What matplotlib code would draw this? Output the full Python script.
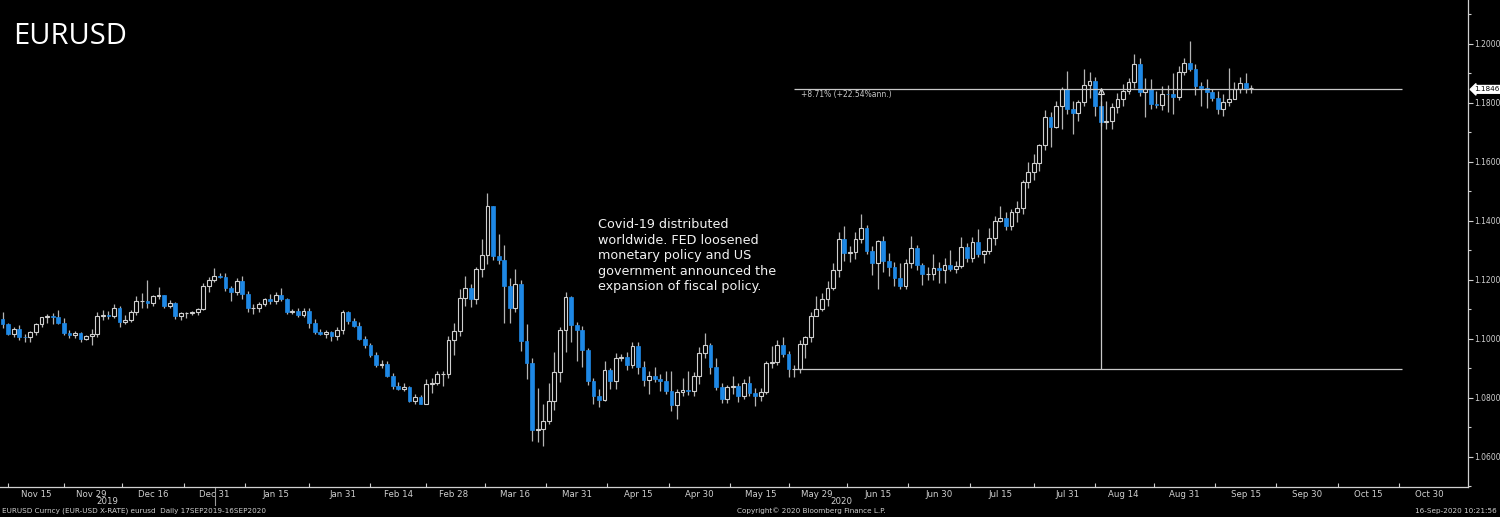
import numpy as np
import pandas as pd
import matplotlib
matplotlib.use("Agg")
import matplotlib.pyplot as plt

# EURUSD daily candles, 06 Nov 2019 - 16 Sep 2020 (weekdays, as Bloomberg shows FX)
start_day = "2019-11-06"
end_day = "2020-09-16"

opens = [
    # Nov
    1.1075, 1.1066, 1.1050, 1.1018, 1.1033, 1.1008, 1.1006, 1.1022, 1.1050, 1.1073, 1.1077, 1.1075, 1.1054, 1.1021, 1.1013, 1.1020, 1.1000, 1.1009,
    # Dec
    1.1017, 1.1078, 1.1081, 1.1077, 1.1104, 1.1059, 1.1065, 1.1093, 1.1128, 1.1130, 1.1121, 1.1144, 1.1148, 1.1112, 1.1121, 1.1079, 1.1087, 1.1089, 1.1090, 1.1100, 1.1178, 1.1199,
    # Jan
    1.1213, 1.1210, 1.1171, 1.1159, 1.1196, 1.1152, 1.1105, 1.1105, 1.1120, 1.1135, 1.1129, 1.1150, 1.1136, 1.1090, 1.1096, 1.1082, 1.1094, 1.1053, 1.1025, 1.1018, 1.1022, 1.1009, 1.1030,
    # Feb
    1.1093, 1.1060, 1.1044, 1.0999, 1.0981, 1.0945, 1.0912, 1.0915, 1.0873, 1.0841, 1.0830, 1.0837, 1.0791, 1.0803, 1.0780, 1.0846, 1.0852, 1.0880, 1.0881, 1.0998,
    # Mar
    1.1027, 1.1138, 1.1174, 1.1136, 1.1236, 1.1285, 1.1451, 1.1282, 1.1268, 1.1181, 1.1106, 1.1185, 1.0993, 1.0918, 1.0691, 1.0694, 1.0722, 1.0790, 1.0887, 1.1031, 1.1141, 1.1046,
    # Apr
    1.1031, 1.0961, 1.0857, 1.0807, 1.0794, 1.0893, 1.0859, 1.0936, 1.0938, 1.0913, 1.0975, 1.0905, 1.0862, 1.0876, 1.0863, 1.0856, 1.0822, 1.0775, 1.0820, 1.0826, 1.0823, 1.0874,
    # May
    1.0954, 1.0981, 1.0906, 1.0838, 1.0796, 1.0837, 1.0841, 1.0807, 1.0850, 1.0817, 1.0805, 1.0819, 1.0919, 1.0923, 1.0978, 1.0950, 1.0897, 1.0898, 1.0983, 1.1007, 1.1078,
    # Jun
    1.1103, 1.1136, 1.1171, 1.1234, 1.1339, 1.1292, 1.1294, 1.1340, 1.1376, 1.1299, 1.1256, 1.1333, 1.1264, 1.1245, 1.1207, 1.1180, 1.1258, 1.1308, 1.1250, 1.1220, 1.1220, 1.1241,
    # Jul
    1.1234, 1.1250, 1.1238, 1.1246, 1.1310, 1.1275, 1.1329, 1.1288, 1.1299, 1.1342, 1.1400, 1.1410, 1.1383, 1.1429, 1.1445, 1.1532, 1.1567, 1.1595, 1.1656, 1.1753, 1.1718, 1.1790, 1.1846,
    # Aug
    1.1778, 1.1765, 1.1803, 1.1861, 1.1876, 1.1790, 1.1737, 1.1738, 1.1787, 1.1814, 1.1842, 1.1870, 1.1933, 1.1836, 1.1848, 1.1797, 1.1794, 1.1832, 1.1830, 1.1820, 1.1905,
    # Sep
    1.1935, 1.1915, 1.1858, 1.1850, 1.1837, 1.1818, 1.1780, 1.1803, 1.1814, 1.1846, 1.1868, 1.1850,
]
highs = [
    1.1092, 1.1092, 1.1055, 1.1040, 1.1046, 1.1018, 1.1026, 1.1054, 1.1075, 1.1085, 1.1089, 1.1097, 1.1072, 1.1031, 1.1026, 1.1025, 1.1015, 1.1035,
    1.1090, 1.1097, 1.1095, 1.1117, 1.1111, 1.1080, 1.1097, 1.1145, 1.1155, 1.1200, 1.1150, 1.1175, 1.1150, 1.1132, 1.1125, 1.1091, 1.1093, 1.1095, 1.1105, 1.1188, 1.1210, 1.1239,
    1.1225, 1.1225, 1.1180, 1.1206, 1.1215, 1.1163, 1.1118, 1.1125, 1.1140, 1.1152, 1.1160, 1.1173, 1.1140, 1.1100, 1.1105, 1.1105, 1.1105, 1.1066, 1.1035, 1.1030, 1.1028, 1.1040, 1.1097,
    1.1096, 1.1070, 1.1058, 1.1011, 1.0987, 1.0955, 1.0930, 1.0925, 1.0883, 1.0855, 1.0850, 1.0840, 1.0815, 1.0810, 1.0863, 1.0866, 1.0891, 1.0892, 1.1009, 1.1054,
    1.1170, 1.1214, 1.1185, 1.1244, 1.1340, 1.1496, 1.1452, 1.1356, 1.1317, 1.1205, 1.1237, 1.1200, 1.1050, 1.0935, 1.0832, 1.0780, 1.0850, 1.0955, 1.1040, 1.1160, 1.1145, 1.1058,
    1.1045, 1.0970, 1.0868, 1.0830, 1.0925, 1.0900, 1.0952, 1.0950, 1.0955, 1.0990, 1.0990, 1.0925, 1.0890, 1.0905, 1.0880, 1.0890, 1.0890, 1.0830, 1.0868, 1.0892, 1.0888, 1.0972,
    1.1019, 1.0985, 1.0937, 1.0849, 1.0845, 1.0876, 1.0851, 1.0864, 1.0876, 1.0833, 1.0834, 1.0926, 1.0976, 1.0995, 1.1008, 1.0960, 1.0913, 1.0995, 1.1010, 1.1092, 1.1145,
    1.1155, 1.1198, 1.1257, 1.1362, 1.1384, 1.1315, 1.1361, 1.1422, 1.1385, 1.1316, 1.1336, 1.1350, 1.1290, 1.1260, 1.1257, 1.1271, 1.1349, 1.1320, 1.1258, 1.1245, 1.1289, 1.1262,
    1.1276, 1.1303, 1.1265, 1.1346, 1.1324, 1.1345, 1.1371, 1.1303, 1.1375, 1.1417, 1.1452, 1.1431, 1.1442, 1.1468, 1.1540, 1.1601, 1.1626, 1.1660, 1.1777, 1.1769, 1.1806, 1.1855, 1.1908,
    1.1806, 1.1809, 1.1916, 1.1906, 1.1889, 1.1806, 1.1805, 1.1800, 1.1833, 1.1863, 1.1883, 1.1966, 1.1951, 1.1885, 1.1880, 1.1840, 1.1858, 1.1860, 1.1900, 1.1925, 1.1953,
    1.2011, 1.1932, 1.1870, 1.1880, 1.1846, 1.1839, 1.1830, 1.1917, 1.1871, 1.1889, 1.1903, 1.1860,
]
lows = [
    1.1054, 1.1036, 1.1014, 1.1005, 1.0997, 1.0990, 1.0989, 1.1015, 1.1040, 1.1055, 1.1052, 1.1052, 1.1015, 1.1003, 1.1003, 1.0990, 1.0995, 1.0981,
    1.1005, 1.1065, 1.1068, 1.1070, 1.1040, 1.1052, 1.1056, 1.1080, 1.1105, 1.1105, 1.1113, 1.1135, 1.1105, 1.1106, 1.1068, 1.1065, 1.1070, 1.1080, 1.1080, 1.1097, 1.1160, 1.1192,
    1.1205, 1.1163, 1.1128, 1.1150, 1.1135, 1.1093, 1.1085, 1.1090, 1.1112, 1.1120, 1.1117, 1.1130, 1.1084, 1.1085, 1.1074, 1.1075, 1.1036, 1.1018, 1.1014, 1.1002, 1.0992, 1.0995, 1.1018,
    1.1049, 1.1040, 1.0995, 1.0970, 1.0938, 1.0904, 1.0900, 1.0870, 1.0830, 1.0827, 1.0825, 1.0785, 1.0779, 1.0778, 1.0778, 1.0818, 1.0845, 1.0840, 1.0869, 1.0944,
    1.1010, 1.1110, 1.1108, 1.1120, 1.1210, 1.1255, 1.1266, 1.1253, 1.1054, 1.1055, 1.1090, 1.0960, 1.0863, 1.0655, 1.0652, 1.0636, 1.0710, 1.0760, 1.0855, 1.0955, 1.0990, 1.0925,
    1.0905, 1.0845, 1.0780, 1.0768, 1.0790, 1.0830, 1.0830, 1.0925, 1.0895, 1.0900, 1.0880, 1.0840, 1.0815, 1.0855, 1.0825, 1.0815, 1.0757, 1.0728, 1.0806, 1.0811, 1.0806, 1.0848,
    1.0936, 1.0882, 1.0826, 1.0782, 1.0782, 1.0812, 1.0787, 1.0796, 1.0808, 1.0774, 1.0789, 1.0812, 1.0902, 1.0912, 1.0940, 1.0870, 1.0870, 1.0886, 1.0935, 1.0990, 1.1077,
    1.1095, 1.1110, 1.1165, 1.1210, 1.1263, 1.1260, 1.1272, 1.1325, 1.1288, 1.1217, 1.1169, 1.1226, 1.1213, 1.1181, 1.1168, 1.1169, 1.1241, 1.1235, 1.1184, 1.1201, 1.1200, 1.1188,
    1.1190, 1.1230, 1.1223, 1.1241, 1.1262, 1.1262, 1.1278, 1.1256, 1.1289, 1.1320, 1.1395, 1.1370, 1.1370, 1.1397, 1.1422, 1.1510, 1.1540, 1.1570, 1.1640, 1.1650, 1.1714, 1.1711, 1.1762,
    1.1696, 1.1740, 1.1791, 1.1816, 1.1756, 1.1722, 1.1711, 1.1711, 1.1766, 1.1790, 1.1831, 1.1852, 1.1822, 1.1753, 1.1780, 1.1782, 1.1776, 1.1770, 1.1762, 1.1811, 1.1895,
    1.1907, 1.1827, 1.1790, 1.1783, 1.1808, 1.1764, 1.1755, 1.1788, 1.1812, 1.1835, 1.1834, 1.1834,
]
closes = [
    1.1066, 1.1050, 1.1018, 1.1033, 1.1008, 1.1006, 1.1022, 1.1050, 1.1073, 1.1077, 1.1075, 1.1054, 1.1021, 1.1013, 1.1020, 1.1000, 1.1009, 1.1017,
    1.1078, 1.1081, 1.1077, 1.1104, 1.1059, 1.1065, 1.1093, 1.1128, 1.1130, 1.1121, 1.1144, 1.1148, 1.1112, 1.1121, 1.1079, 1.1087, 1.1089, 1.1090, 1.1100, 1.1178, 1.1199, 1.1213,
    1.1210, 1.1171, 1.1159, 1.1196, 1.1152, 1.1105, 1.1105, 1.1120, 1.1135, 1.1129, 1.1150, 1.1136, 1.1090, 1.1096, 1.1082, 1.1094, 1.1053, 1.1025, 1.1018, 1.1022, 1.1009, 1.1030, 1.1093,
    1.1060, 1.1044, 1.0999, 1.0981, 1.0945, 1.0912, 1.0915, 1.0873, 1.0841, 1.0830, 1.0837, 1.0791, 1.0803, 1.0780, 1.0846, 1.0852, 1.0880, 1.0881, 1.0998, 1.1027,
    1.1138, 1.1174, 1.1136, 1.1236, 1.1285, 1.1451, 1.1282, 1.1268, 1.1181, 1.1106, 1.1185, 1.0993, 1.0918, 1.0691, 1.0694, 1.0722, 1.0790, 1.0887, 1.1031, 1.1141, 1.1046, 1.1031,
    1.0961, 1.0857, 1.0807, 1.0794, 1.0893, 1.0859, 1.0936, 1.0938, 1.0913, 1.0975, 1.0905, 1.0862, 1.0876, 1.0863, 1.0856, 1.0822, 1.0775, 1.0820, 1.0826, 1.0823, 1.0874, 1.0954,
    1.0981, 1.0906, 1.0838, 1.0796, 1.0837, 1.0841, 1.0807, 1.0850, 1.0817, 1.0805, 1.0819, 1.0919, 1.0923, 1.0978, 1.0950, 1.0897, 1.0898, 1.0983, 1.1007, 1.1078, 1.1103,
    1.1136, 1.1171, 1.1234, 1.1339, 1.1292, 1.1294, 1.1340, 1.1376, 1.1299, 1.1256, 1.1333, 1.1264, 1.1245, 1.1207, 1.1180, 1.1258, 1.1308, 1.1250, 1.1220, 1.1220, 1.1241, 1.1234,
    1.1250, 1.1238, 1.1246, 1.1310, 1.1275, 1.1329, 1.1288, 1.1299, 1.1342, 1.1400, 1.1410, 1.1383, 1.1429, 1.1445, 1.1532, 1.1567, 1.1595, 1.1656, 1.1753, 1.1718, 1.1790, 1.1846, 1.1778,
    1.1765, 1.1803, 1.1861, 1.1876, 1.1790, 1.1737, 1.1738, 1.1787, 1.1814, 1.1842, 1.1870, 1.1933, 1.1836, 1.1848, 1.1797, 1.1794, 1.1832, 1.1830, 1.1820, 1.1905, 1.1935,
    1.1915, 1.1858, 1.1850, 1.1837, 1.1818, 1.1780, 1.1803, 1.1814, 1.1846, 1.1868, 1.1850, 1.1850,
]

# x axis labels (Bloomberg half-month labels)
tick_dates = ["2019-11-15", "2019-11-29", "2019-12-16", "2019-12-31", "2020-01-15", "2020-01-31",
              "2020-02-14", "2020-02-28", "2020-03-16", "2020-03-31", "2020-04-15", "2020-04-30",
              "2020-05-15", "2020-05-29", "2020-06-15", "2020-06-30", "2020-07-15", "2020-07-31",
              "2020-08-14", "2020-08-31", "2020-09-15", "2020-09-30", "2020-10-15", "2020-10-30"]
tick_labels = ["Nov 15", "Nov 29", "Dec 16", "Dec 31", "Jan 15", "Jan 31", "Feb 14", "Feb 28",
               "Mar 16", "Mar 31", "Apr 15", "Apr 30", "May 15", "May 29", "Jun 15", "Jun 30",
               "Jul 15", "Jul 31", "Aug 14", "Aug 31", "Sep 15", "Sep 30", "Oct 15", "Oct 30"]
price_ticks = [1.06, 1.08, 1.10, 1.12, 1.14, 1.16, 1.18, 1.20]

# Bloomberg "trend" measurement: low close -> last price
measure_from = "2020-05-25"
measure_to = "2020-08-10"
measure_end = "2020-10-23"
measure_low = 1.0897
last_price = 1.1846

dates = pd.bdate_range(start_day, end_day)
x = np.arange(len(dates))


def pos(day):
    # position of a calendar day on the weekday axis
    return np.busday_count(np.datetime64(start_day), np.datetime64(day))


BLUE = "#1e88e5"
GREY = "#cfcfcf"
WICK = "#b4b4b4"
TXT = "#d0d0d0"

fig = plt.figure(figsize=(15, 5.17), dpi=100, facecolor="black")
ax = fig.add_axes([0.0, 0.058, 0.9787, 0.942], facecolor="black")

o = np.array(opens)
h = np.array(highs)
l = np.array(lows)
c = np.array(closes)
up = c >= o

# wicks first, bodies on top
ax.vlines(x, l, h, color=WICK, linewidth=0.9, zorder=2)
body_low = np.minimum(o, c)
body_h = np.maximum(np.abs(c - o), 0.00008)
ax.bar(x[up], body_h[up], bottom=body_low[up], width=0.68, facecolor="black",
       edgecolor=GREY, linewidth=0.8, zorder=3)
ax.bar(x[~up], body_h[~up], bottom=body_low[~up], width=0.68, facecolor=BLUE,
       edgecolor=BLUE, linewidth=0.5, zorder=3)

# measurement lines
line_kw = dict(color="#c8c8c8", linewidth=0.9, zorder=4)
ax.hlines(last_price, pos(measure_from), pos(measure_end), **line_kw)
ax.hlines(measure_low, pos(measure_from), pos(measure_end), **line_kw)
ax.vlines(pos(measure_to), measure_low, last_price, **line_kw)
ax.plot(pos(measure_to), last_price - 0.0004, marker="^", markersize=5, markerfacecolor="none",
        markeredgecolor="#dddddd", markeredgewidth=0.8, zorder=5)
ax.text(pos(measure_from) + 1.2, last_price - 0.0003, "+8.71% (+22.54%ann.)", color="#c8c8c8",
        fontsize=5.5, va="top", ha="left")

ax.set_xlim(0.55, 263.9)
ax.set_ylim(1.0498, 1.2149)

# spines
for side in ["left", "top"]:
    ax.spines[side].set_visible(False)
for side in ["right", "bottom"]:
    ax.spines[side].set_color(TXT)
    ax.spines[side].set_linewidth(0.9)

# y axis on the right
ax.yaxis.tick_right()
ax.set_yticks(price_ticks)
ax.set_yticklabels([f"{p:.4f}" for p in price_ticks])
ax.set_yticks(np.arange(1.05, 1.215, 0.01), minor=True)
ax.tick_params(axis="y", which="major", colors=TXT, labelsize=5.5, length=3.5, width=0.8, pad=0.8)
ax.tick_params(axis="y", which="minor", colors=TXT, length=2, width=0.8)

# x axis labels with small ticks between them
label_pos = np.array([pos(d) for d in tick_dates], dtype=float)
mid_pos = (label_pos[:-1] + label_pos[1:]) / 2
mid_pos = np.concatenate([[label_pos[0] - (label_pos[1] - label_pos[0]) / 2], mid_pos])
ax.set_xticks(label_pos)
ax.set_xticklabels(tick_labels)
ax.set_xticks(mid_pos, minor=True)
ax.tick_params(axis="x", which="major", length=0, labelsize=6.2, labelcolor=TXT, pad=2)
ax.tick_params(axis="x", which="minor", direction="in", length=3, color=TXT, width=0.8)

# year labels centred on the visible part of each year
year_split = pos("2019-12-31") + 0.2
xt = ax.get_xaxis_transform()
ax.text((0.55 + year_split) / 2, -0.029, "2019", transform=xt, color=TXT, fontsize=6.2,
        ha="center", va="center")
ax.text((year_split + 263.9) / 2, -0.029, "2020", transform=xt, color=TXT, fontsize=6.2,
        ha="center", va="center")
ax.plot([year_split, year_split], [0, -0.037], transform=xt, color="#9a9a9a", linewidth=0.8,
        clip_on=False)

# last price tag
ax.annotate(f"{last_price:.4f}", xy=(1.0, last_price), xycoords=("axes fraction", "data"),
            xytext=(4.5, 0), textcoords="offset points", fontsize=5.2, color="black",
            ha="left", va="center",
            bbox=dict(boxstyle="larrow,pad=0.12", facecolor="white", edgecolor="white"))

# titles and notes
fig.text(0.0085, 0.930, "EURUSD", color="white", fontsize=21, family="Open Sans",
         ha="left", va="center")
fig.text(0.3987, 0.578,
         "Covid-19 distributed\nworldwide. FED loosened\nmonetary policy and US\n"
         "government announced the\nexpansion of fiscal policy.",
         color="#f2f2f2", fontsize=9.2, ha="left", va="top", linespacing=1.25)

fig.text(0.0013, 0.0116, "EURUSD Curncy (EUR-USD X-RATE) eurusd  Daily 17SEP2019-16SEP2020",
         color=TXT, fontsize=5.2, ha="left", va="center")
fig.text(0.541, 0.0116, "Copyright\u00a9 2020 Bloomberg Finance L.P.", color=TXT,
         fontsize=5.2, ha="center", va="center")
fig.text(0.998, 0.0116, "16-Sep-2020 10:21:56", color=TXT, fontsize=5.2,
         ha="right", va="center")

plt.savefig("out.png", dpi=100, facecolor="black")
